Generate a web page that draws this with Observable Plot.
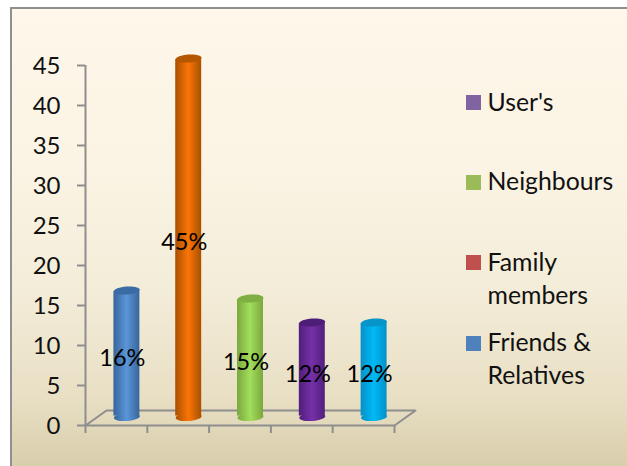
<!DOCTYPE html>
<html>
<head>
<meta charset="utf-8">
<script src="https://cdn.jsdelivr.net/npm/d3@7"></script>
<script src="https://cdn.jsdelivr.net/npm/@observablehq/plot@0.6"></script>
<style>
  html, body { margin: 0; padding: 0; background: #fff; }
  #panel {
    position: absolute; left: 10px; top: 7px; width: 617px; height: 459px;
    box-sizing: border-box; border-left: 2px solid #8f8f8f; border-top: 2px solid #8f8f8f;
    background: linear-gradient(#fef7ea 0%, #fbf4e4 35%, #f3ecd8 62%, #e8dfc4 85%, #d9ceac 100%);
  }
  #chart { position: absolute; left: 0; top: 0; }
  #chart svg { background: transparent; overflow: visible; }
  .key { position: absolute; left: 487.5px; font: 24.8px/33px Lato, sans-serif; color: #111; white-space: nowrap; }
  .swatch { position: absolute; left: 466px; width: 15px; height: 15px; }
</style>
</head>
<body>
<div id="panel"></div>
<div id="chart"></div>
<script>
// Survey shares, one cylinder per source.
const categories = ["Friends & Relatives", "Family members", "Neighbours", "User's", "Other"];
const values = [16, 45, 15, 12, 12];
const yTicks = [0, 5, 10, 15, 20, 25, 30, 35, 40, 45];
const xBoundaries = [0, 1, 2, 3, 4, 5];

// Cylinder shading: edge, centre, cap.
const edgeColors = ["#38659c", "#a85000", "#7aa83c", "#4f1f7c", "#0590c8"];
const centreColors = ["#5a96d8", "#fb7506", "#a2de5c", "#7730a8", "#00baf6"];
const capColors = ["#3a6ba5", "#b55600", "#7fae42", "#4e1d78", "#0794c9"];

const legendNames = [["User's"], ["Neighbours"], ["Family", "members"], ["Friends &", "Relatives"]];
const legendColors = ["#8064a2", "#9bbb59", "#c0504d", "#4f81bd"];

const axisColor = "#8e8e8e";
const barHalf = 0.21;       // half a cylinder, in category units
const depthX = 10.5, depthY = -7.5; // oblique shift of the bars onto the floor
const floorX = 21 / 61.8, floorY = 15 / 8; // floor depth in scale units

// Slightly tilted ellipse used for cylinder caps and bases.
const ellipse = {
  draw(ctx) {
    const rx = 13, ry = 4, t = -4 * Math.PI / 180, k = 0.5523;
    const P = (x, y) => [x * Math.cos(t) - y * Math.sin(t), x * Math.sin(t) + y * Math.cos(t)];
    ctx.moveTo(...P(rx, 0));
    ctx.bezierCurveTo(...P(rx, k * ry), ...P(k * rx, ry), ...P(0, ry));
    ctx.bezierCurveTo(...P(-k * rx, ry), ...P(-rx, k * ry), ...P(-rx, 0));
    ctx.bezierCurveTo(...P(-rx, -k * ry), ...P(-k * rx, -ry), ...P(0, -ry));
    ctx.bezierCurveTo(...P(k * rx, -ry), ...P(rx, -k * ry), ...P(rx, 0));
    ctx.closePath();
  }
};

const rows = categories.map((name, i) => ({name, value: values[i], pos: i + 0.5, i}));
const floor = [
  {x: 0, y: 0}, {x: 5, y: 0}, {x: 5 + floorX, y: floorY}, {x: floorX, y: floorY}, {x: 0, y: 0}
];

// Each cylinder: base ellipse, shaded body trimmed to sit inside both ends, darker cap.
const cylinders = rows.flatMap((d) => [
  Plot.dot([d], {x: "pos", y: () => 0, symbol: ellipse, fill: `url(#shade${d.i})`, dx: depthX, dy: depthY - 1}),
  Plot.rect([d], {
    x1: (r) => r.pos - barHalf, x2: (r) => r.pos + barHalf, y1: () => 0, y2: "value",
    insetTop: 0.9, insetBottom: 2.4, fill: `url(#shade${d.i})`, dx: depthX, dy: depthY + 0.5
  }),
  Plot.dot([d], {x: "pos", y: "value", symbol: ellipse, fill: capColors[d.i], dx: depthX, dy: depthY + 0.5})
]);

const plot = Plot.plot({
  width: 627,
  height: 466,
  marginTop: 65,
  marginBottom: 41,
  marginLeft: 85,
  marginRight: 233,
  style: {background: "transparent"},
  x: {domain: [0, 5]},
  y: {domain: [0, 45]},
  marks: [
    Plot.line(floor, {x: "x", y: "y", stroke: axisColor, strokeWidth: 2}),
    Plot.ruleX([0], {y1: 0, y2: 45, stroke: axisColor, strokeWidth: 2}),
    Plot.axisY({ticks: yTicks, tickSize: 8, stroke: axisColor, strokeWidth: 2, label: null, text: null}),
    Plot.axisY({
      ticks: yTicks, tickSize: 0, tickPadding: 25, dy: 1,
      label: null, fontSize: 24, fontFamily: "Lato, sans-serif", fill: "#111"
    }),
    Plot.axisX({
      ticks: xBoundaries, tickSize: 8, stroke: axisColor, strokeWidth: 2,
      label: null, tickFormat: () => ""
    }),
    ...cylinders,
    Plot.text(rows, {
      x: "pos", y: (d) => d.value / 2, text: (d) => `${d.value}%`,
      dx: 6, dy: -3, fontSize: 23.5, fontFamily: "Lato, sans-serif", fill: "#000"
    })
  ]
});

// Horizontal shading definitions referenced by the cylinder fills.
const defs = d3.select(plot).insert("defs", ":first-child");
rows.forEach((d) => {
  const g = defs.append("linearGradient").attr("id", `shade${d.i}`);
  [[0, edgeColors[d.i]], [0.5, centreColors[d.i]], [1, edgeColors[d.i]]].forEach(([o, c]) =>
    g.append("stop").attr("offset", o).attr("stop-color", c));
});
document.getElementById("chart").append(plot);

// Key on the right-hand side.
const swatchTops = [95, 175, 255, 336];
const textTops = [85, 164, 245, 325];
legendNames.forEach((lines, i) => {
  const s = document.createElement("div");
  s.className = "swatch";
  s.style.top = swatchTops[i] + "px";
  s.style.background = legendColors[i];
  document.body.append(s);
  const t = document.createElement("div");
  t.className = "key";
  t.style.top = textTops[i] + "px";
  t.innerHTML = lines.join("<br>").replace("&", "&amp;");
  document.body.append(t);
});
</script>
</body>
</html>
